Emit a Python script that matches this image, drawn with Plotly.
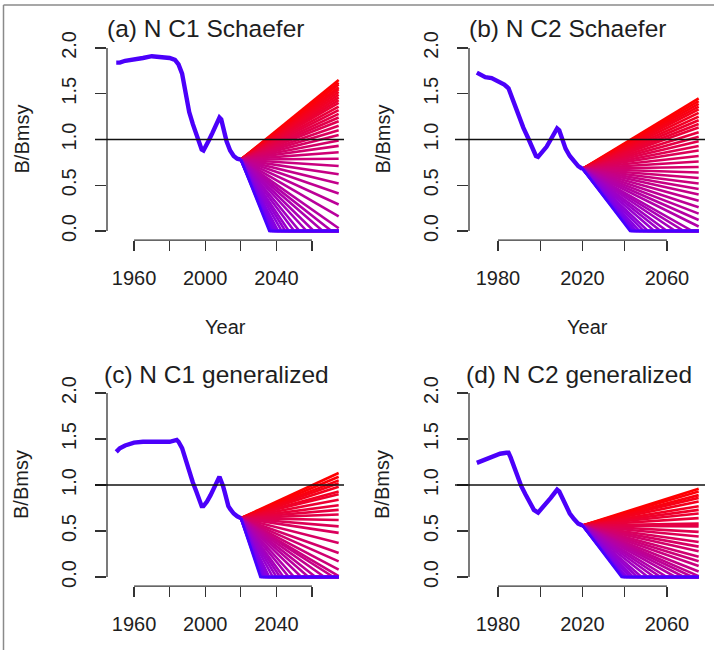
import plotly.graph_objects as go

W, H = 714, 650

# ---------------- data ----------------
# (a) N C1 Schaefer
hist_years_a = [1950, 1952, 1955, 1960, 1965, 1970, 1975, 1980, 1983, 1985, 1987, 1989, 1991, 1993,
                1995, 1997, 1998, 1999, 2000, 2002, 2004, 2006, 2008, 2009, 2010, 2012, 2014, 2016,
                2018, 2020]
hist_vals_a = [1.84, 1.84, 1.86, 1.87, 1.89, 1.91, 1.90, 1.89, 1.87, 1.82, 1.72, 1.50, 1.30, 1.17,
               1.06, 0.95, 0.89, 0.88, 0.91, 0.99, 1.07, 1.16, 1.24, 1.22, 1.12, 0.98, 0.88, 0.82,
               0.79, 0.78]
end_vals_a = [1.65, 1.62, 1.60, 1.57, 1.55, 1.52, 1.49, 1.46, 1.43, 1.40, 1.36, 1.32, 1.28, 1.24,
              1.20, 1.15, 1.10, 1.05, 0.99, 0.93, 0.86, 0.79, 0.71, 0.62, 0.52, 0.41, 0.29, 0.16,
              0.03]
crash_years_a = [2071, 2066, 2061, 2057, 2053, 2050, 2047, 2045, 2043, 2041, 2040, 2039, 2038,
                 2037, 2036.5, 2036]

# (b) N C2 Schaefer
hist_years_b = [1970, 1972, 1974, 1977, 1980, 1983, 1985, 1986, 1988, 1990, 1992, 1994, 1996, 1998,
                1999, 2001, 2003, 2005, 2007, 2008, 2009, 2010, 2011, 2012, 2014, 2016, 2018, 2020]
hist_vals_b = [1.73, 1.70, 1.68, 1.67, 1.64, 1.60, 1.56, 1.50, 1.38, 1.23, 1.13, 1.03, 0.91, 0.82,
               0.81, 0.86, 0.92, 1.00, 1.08, 1.12, 1.10, 1.03, 0.97, 0.90, 0.82, 0.76, 0.71, 0.68]
end_vals_b = [1.45, 1.42, 1.39, 1.36, 1.33, 1.29, 1.25, 1.21, 1.17, 1.13, 1.08, 1.03, 0.98, 0.93,
              0.88, 0.82, 0.76, 0.70, 0.64, 0.58, 0.52, 0.46, 0.40, 0.33, 0.26, 0.19, 0.12, 0.05]
crash_years_b = [2072, 2068, 2064, 2060, 2057, 2054, 2051, 2049, 2047, 2045.5, 2044.5, 2043.5,
                 2043, 2042.5]

# (c) N C1 generalized
hist_years_c = [1950, 1952, 1955, 1960, 1965, 1970, 1975, 1980, 1984, 1985, 1987, 1989, 1991, 1993,
                1995, 1997, 1998, 1999, 2001, 2003, 2005, 2007, 2008, 2009, 2010, 2011, 2012, 2013,
                2014, 2016, 2018, 2020]
hist_vals_c = [1.36, 1.40, 1.43, 1.46, 1.47, 1.47, 1.46, 1.47, 1.49, 1.47, 1.40, 1.27, 1.13, 1.03,
               0.93, 0.81, 0.77, 0.77, 0.82, 0.89, 0.96, 1.05, 1.09, 1.05, 0.99, 0.92, 0.84, 0.77,
               0.74, 0.69, 0.66, 0.64]
end_vals_c = [1.13, 1.09, 1.05, 1.02, 0.98, 0.93, 0.90, 0.84, 0.78, 0.73, 0.68, 0.62, 0.55, 0.48,
              0.37, 0.26, 0.17, 0.08, 0.01]
crash_years_c = [2072, 2067, 2062, 2058, 2054, 2050, 2047, 2044, 2042, 2040, 2038, 2036, 2035,
                 2034, 2033, 2032, 2031.5, 2031]

# (d) N C2 generalized
hist_years_d = [1970, 1972, 1975, 1978, 1981, 1984, 1985, 1986, 1988, 1990, 1991, 1993, 1995, 1997,
                1999, 2001, 2003, 2005, 2007, 2008, 2009, 2010, 2011, 2012, 2014, 2016, 2018, 2020]
hist_vals_d = [1.24, 1.26, 1.29, 1.32, 1.34, 1.35, 1.35, 1.30, 1.17, 1.05, 0.99, 0.90, 0.81, 0.73,
               0.70, 0.75, 0.80, 0.86, 0.92, 0.95, 0.93, 0.88, 0.83, 0.77, 0.69, 0.63, 0.58, 0.56]
end_vals_d = [0.96, 0.93, 0.89, 0.86, 0.82, 0.77, 0.73, 0.69, 0.64, 0.58, 0.55, 0.49, 0.44, 0.38,
              0.33, 0.28, 0.22, 0.17, 0.12, 0.06, 0.01]
crash_years_d = [2072, 2068, 2064, 2060, 2057, 2054, 2051, 2048, 2046, 2044, 2042.5, 2041, 2040,
                 2039.5, 2039, 2038.5]

proj_end_year = 2075

titles = ["(a) N C1 Schaefer", "(b) N C2 Schaefer", "(c) N C1 generalized", "(d) N C2 generalized"]
x_ticks_left = [1960, 1980, 2000, 2020, 2040, 2060]
x_ticktext_left = ["1960", "", "2000", "", "2040", ""]
x_ticks_right = [1980, 2000, 2020, 2040, 2060]
x_ticktext_right = ["1980", "", "2020", "", "2060"]
y_ticks = [0.0, 0.5, 1.0, 1.5, 2.0]
y_ticktext = ["0.0", "0.5", "1.0", "1.5", "2.0"]

# ---------------- layout geometry (pixels) ----------------
FONT = "Liberation Sans, Arial, Helvetica, sans-serif"
TXT = "#1e1e1e"
AX = "#333333"
HIST_COL = "rgb(75,0,250)"


def fx(p):
    return p / W


def fy(p):
    return 1 - p / H


panels = [
    dict(title=titles[0], hy=hist_years_a, hv=hist_vals_a, ev=end_vals_a, cy=crash_years_a,
         xdom=(107, 344), ydom=(38.8, 240.2), xr=(1944.8, 2078.0), tv=x_ticks_left, tt=x_ticktext_left,
         tx=206, ty=29, ylx=21, ab=(95, 344), year=True),
    dict(title=titles[1], hy=hist_years_b, hv=hist_vals_b, ev=end_vals_b, cy=crash_years_b,
         xdom=(469, 705), ydom=(38.8, 240.2), xr=(1966.3, 2078.0), tv=x_ticks_right, tt=x_ticktext_right,
         tx=567, ty=29, ylx=382, ab=(455, 705), year=True),
    dict(title=titles[2], hy=hist_years_c, hv=hist_vals_c, ev=end_vals_c, cy=crash_years_c,
         xdom=(107, 344), ydom=(383.8, 586.2), xr=(1944.8, 2078.0), tv=x_ticks_left, tt=x_ticktext_left,
         tx=217, ty=375, ylx=21, ab=(95, 344), year=False),
    dict(title=titles[3], hy=hist_years_d, hv=hist_vals_d, ev=end_vals_d, cy=crash_years_d,
         xdom=(469, 705), ydom=(383.8, 586.2), xr=(1966.3, 2078.0), tv=x_ticks_right, tt=x_ticktext_right,
         tx=579, ty=375, ylx=382, ab=(455, 705), year=False),
]


def ramp(t):
    # red (t=0) -> magenta -> blue-violet (t=1)
    r = round(70 + 185 * (1 - t) ** 0.5)
    b = round(255 * t ** 1.0)
    return f"rgb({r},0,{b})"


fig = go.Figure()
shapes = []
annotations = []
layout = {}

for i, p in enumerate(panels, start=1):
    xa = "x" if i == 1 else f"x{i}"
    ya = "y" if i == 1 else f"y{i}"
    x0yr, x0v = p["hy"][-1], p["hv"][-1]
    n = len(p["ev"]) + len(p["cy"])
    k = 0
    # projections: red (high) first, blue (low) last
    for v in p["ev"]:
        fig.add_trace(go.Scatter(x=[x0yr, proj_end_year], y=[x0v, v], mode="lines",
                                 line=dict(color=ramp(k / (n - 1)), width=2.6),
                                 xaxis=xa, yaxis=ya, showlegend=False, hoverinfo="skip"))
        k += 1
    for cy in p["cy"]:
        fig.add_trace(go.Scatter(x=[x0yr, cy, proj_end_year], y=[x0v, 0, 0], mode="lines",
                                 line=dict(color=ramp(k / (n - 1)), width=2.6),
                                 xaxis=xa, yaxis=ya, showlegend=False, hoverinfo="skip"))
        k += 1
    fig.add_trace(go.Scatter(x=p["hy"], y=p["hv"], mode="lines",
                             line=dict(color=HIST_COL, width=4.4),
                             xaxis=xa, yaxis=ya, showlegend=False, hoverinfo="skip"))

    lx = "xaxis" if i == 1 else f"xaxis{i}"
    ly = "yaxis" if i == 1 else f"yaxis{i}"
    layout[lx] = dict(domain=[fx(p["xdom"][0]), fx(p["xdom"][1])], range=list(p["xr"]),
                      anchor=ya, showline=False, showgrid=False, zeroline=False, automargin=False,
                      ticks="outside", ticklen=10, tickwidth=1.3, tickcolor=AX,
                      tickvals=p["tv"], ticktext=p["tt"], ticklabelstandoff=10,
                      tickfont=dict(family=FONT, size=20, color=TXT))
    layout[ly] = dict(domain=[fy(p["ydom"][1]), fy(p["ydom"][0])], range=[-0.1, 2.1],
                      anchor=xa, showline=False, showgrid=False, zeroline=False, automargin=False,
                      ticks="outside", ticklen=11, tickwidth=1.3, tickcolor=AX,
                      tickvals=y_ticks, ticktext=y_ticktext, tickangle=-90, ticklabelstandoff=11,
                      tickfont=dict(family=FONT, size=20, color=TXT))
    # axis lines (R style: spanning first to last tick)
    shapes.append(dict(type="line", xref="paper", yref=ya, x0=fx(p["xdom"][0]), x1=fx(p["xdom"][0]),
                       y0=0, y1=2, line=dict(color=AX, width=1.3)))
    shapes.append(dict(type="line", xref=xa, yref="paper", x0=p["tv"][0], x1=p["tv"][-1],
                       y0=fy(p["ydom"][1]), y1=fy(p["ydom"][1]), line=dict(color=AX, width=1.3)))
    # reference line at B/Bmsy = 1
    shapes.append(dict(type="line", xref="paper", yref=ya, x0=fx(p["ab"][0]), x1=fx(p["ab"][1]),
                       y0=1, y1=1, line=dict(color="#111111", width=1.4)))
    annotations.append(dict(text=p["title"], xref="paper", yref="paper", x=fx(p["tx"]), y=fy(p["ty"]),
                            showarrow=False, xanchor="center", yanchor="middle",
                            font=dict(family=FONT, size=24.5, color=TXT)))
    annotations.append(dict(text="B/Bmsy", xref="paper", yref="paper", x=fx(p["ylx"]),
                            y=fy((p["ydom"][0] + p["ydom"][1]) / 2), textangle=-90,
                            showarrow=False, xanchor="center", yanchor="middle",
                            font=dict(family=FONT, size=20, color=TXT)))
    if p["year"]:
        annotations.append(dict(text="Year", xref="paper", yref="paper",
                                x=fx((p["xdom"][0] + p["xdom"][1]) / 2), y=fy(327),
                                showarrow=False, xanchor="center", yanchor="middle",
                                font=dict(family=FONT, size=20, color=TXT)))

# outer frame (left and top edges visible)
shapes.append(dict(type="line", xref="paper", yref="paper", x0=fx(3.5), x1=fx(3.5), y0=fy(5), y1=0,
                   line=dict(color="#8a8a8a", width=1.5)))
shapes.append(dict(type="line", xref="paper", yref="paper", x0=fx(3.5), x1=1, y0=fy(5), y1=fy(5),
                   line=dict(color="#8a8a8a", width=1.5)))

fig.update_layout(width=W, height=H, margin=dict(l=0, r=0, t=0, b=0, autoexpand=False),
                  paper_bgcolor="white", plot_bgcolor="white", hovermode=False,
                  shapes=shapes, annotations=annotations, showlegend=False, **layout)

fig.write_html("out.html", config={"displayModeBar": False, "staticPlot": True},
               post_script="document.body.style.margin='0px';document.body.style.overflow='hidden';")
